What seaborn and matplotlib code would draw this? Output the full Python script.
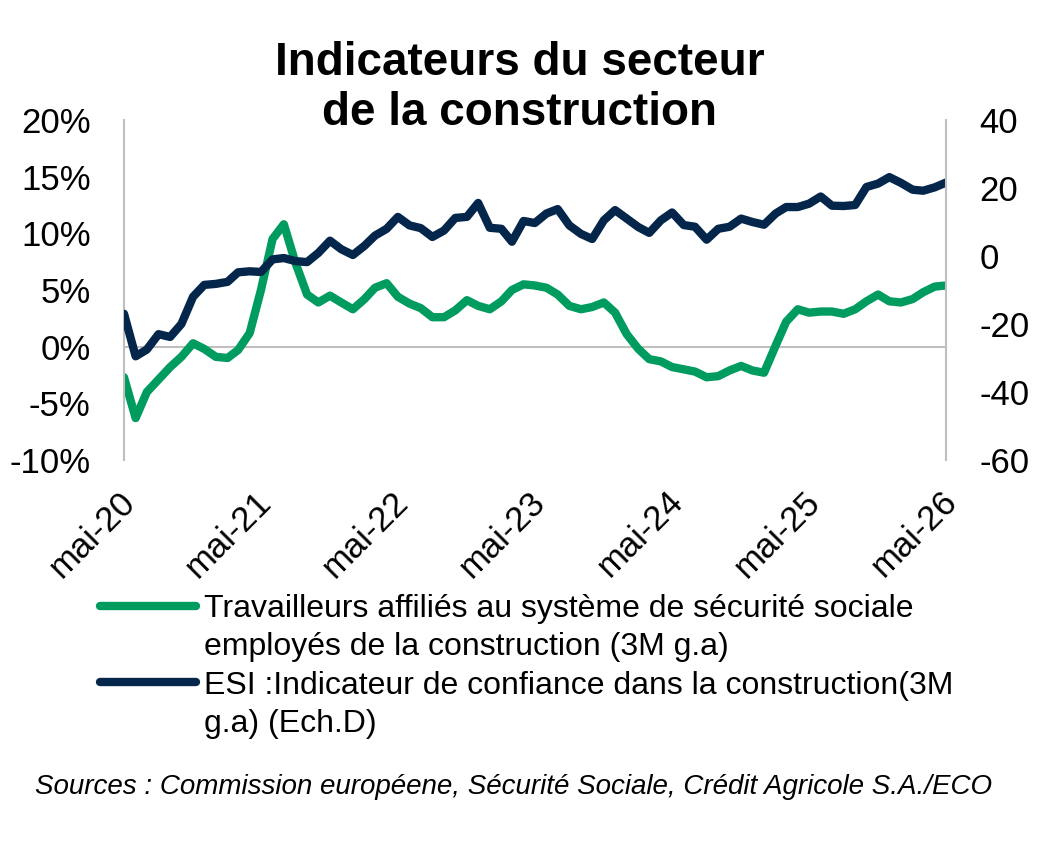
import pandas as pd
import matplotlib.pyplot as plt
import matplotlib.transforms as mtransforms
from matplotlib.lines import Line2D
import seaborn as sns

# Données
dates = pd.date_range('2020-05-01', periods=73, freq='MS')

travailleurs = [-2.7, -6.3, -4.0, -2.9, -1.8, -0.9, 0.3, -0.2, -0.9, -1.0,
                -0.3, 1.2, 5.0, 9.5, 10.8, 7.4, 4.6, 3.9, 4.5, 3.9,
                3.3, 4.2, 5.2, 5.6, 4.4, 3.8, 3.4, 2.6, 2.6, 3.2,
                4.1, 3.6, 3.3, 4.0, 5.0, 5.5, 5.4, 5.2, 4.6, 3.6,
                3.3, 3.5, 3.9, 3.0, 1.1, -0.2, -1.1, -1.3, -1.8, -2.0,
                -2.2, -2.7, -2.6, -2.1, -1.7, -2.1, -2.3, 0.1, 2.2, 3.3,
                3.0, 3.1, 3.1, 2.9, 3.3, 4.0, 4.6, 4.0, 3.9, 4.2,
                4.8, 5.3, 5.4]

esi = [-17.0, -29.5, -27.5, -23.0, -23.8, -20.0, -12.0, -8.5, -8.2, -7.6,
       -4.8, -4.5, -4.7, -1.0, -0.6, -1.5, -1.8, 0.9, 4.5, 2.0,
       0.3, 3.0, 6.0, 8.0, 11.5, 9.0, 8.2, 5.6, 7.5, 11.2,
       11.5, 15.6, 8.3, 8.0, 4.2, 10.3, 9.7, 12.5, 13.8, 9.0,
       6.5, 5.0, 10.5, 13.5, 11.0, 8.5, 6.8, 10.5, 12.8, 9.1,
       8.6, 4.8, 8.0, 8.6, 11.0, 10.0, 9.2, 12.5, 14.4, 14.4,
       15.4, 17.5, 14.8, 14.7, 15.0, 20.3, 21.3, 23.2, 21.5, 19.5,
       19.2, 20.2, 21.6]

x_labels = ['mai-20', 'mai-21', 'mai-22', 'mai-23', 'mai-24', 'mai-25', 'mai-26']
left_ticks = [-10, -5, 0, 5, 10, 15, 20]
right_ticks = [-60, -40, -20, 0, 20, 40]

label_trav = ['Travailleurs affiliés au système de sécurité sociale',
              'employés de la construction (3M g.a)']
label_esi = ['ESI :Indicateur de confiance dans la construction(3M',
             'g.a) (Ech.D)']

vert = '#009B5F'
marine = '#03264A'
gris = '#BFBFBF'

sns.set_theme(style='white')
plt.rcParams['font.family'] = ['Liberation Sans', 'DejaVu Sans']
plt.rcParams['text.color'] = 'black'

fig = plt.figure(figsize=(10.4, 8.44), dpi=100)
ax = fig.add_axes([124 / 1040, 1 - 460 / 844, (946 - 124) / 1040, 340 / 844])
ax2 = ax.twinx()

ax.axhline(0, color=gris, lw=1.5, zorder=1)
sns.lineplot(x=dates, y=travailleurs, ax=ax, color=vert, linewidth=6,
             solid_joinstyle='round', solid_capstyle='round')
sns.lineplot(x=dates, y=esi, ax=ax2, color=marine, linewidth=6,
             solid_joinstyle='round', solid_capstyle='round')

ax.set_xlim(dates[0], dates[-1])
ax.set_ylim(-10, 20)
ax2.set_ylim(-60, 40)

ax.set_yticks(left_ticks, labels=[f'{v}%' for v in left_ticks])
ax2.set_yticks(right_ticks, labels=[str(v) for v in right_ticks])
ax.set_xticks(dates[::12], labels=x_labels)

ax.tick_params(axis='y', length=0, pad=24, labelsize=25, labelcolor='black')
ax2.tick_params(axis='y', length=0, pad=24, labelsize=25, labelcolor='black')
ax.tick_params(axis='x', length=0, pad=18, labelsize=25, labelcolor='black')

offset = mtransforms.ScaledTranslation(-6 / 100, 0, fig.dpi_scale_trans)
for lab in ax.get_xticklabels():
    lab.set_rotation(45)
    lab.set_ha('right')
    lab.set_rotation_mode('anchor')
    lab.set_transform(lab.get_transform() + offset)

for a in (ax, ax2):
    a.set_xlabel('')
    a.set_ylabel('')
    a.grid(False)
    for s in ('top', 'bottom'):
        a.spines[s].set_visible(False)
ax.spines['right'].set_visible(False)
ax2.spines['left'].set_visible(False)
ax.spines['left'].set_color(gris)
ax.spines['left'].set_linewidth(1.5)
ax2.spines['right'].set_color(gris)
ax2.spines['right'].set_linewidth(1.5)

# Titre
fig.text(0.5, 1 - 88 / 844, 'Indicateurs du secteur\nde la construction',
         ha='center', va='center', fontsize=33, fontweight='bold',
         linespacing=1.17, zorder=10)

# Légende
vide = Line2D([], [], color='none')
handles = [Line2D([], [], color=vert, lw=6, solid_capstyle='round'), vide,
           Line2D([], [], color=marine, lw=6, solid_capstyle='round'), vide]
labels = [label_trav[0], label_trav[1], label_esi[0], label_esi[1]]
fig.legend(handles, labels, loc='upper left',
           bbox_to_anchor=(100 / 1040, 1 - 594 / 844),
           frameon=False, fontsize=23, handlelength=3.0, handletextpad=0.25,
           labelspacing=0.26, borderpad=0, borderaxespad=0)

# Sources
fig.text(35 / 1040, 1 - 787 / 844,
         'Sources : Commission européene, Sécurité Sociale, Crédit Agricole S.A./ECO',
         ha='left', va='center', fontsize=20, fontstyle='italic')

fig.savefig('out.png', dpi=100)
